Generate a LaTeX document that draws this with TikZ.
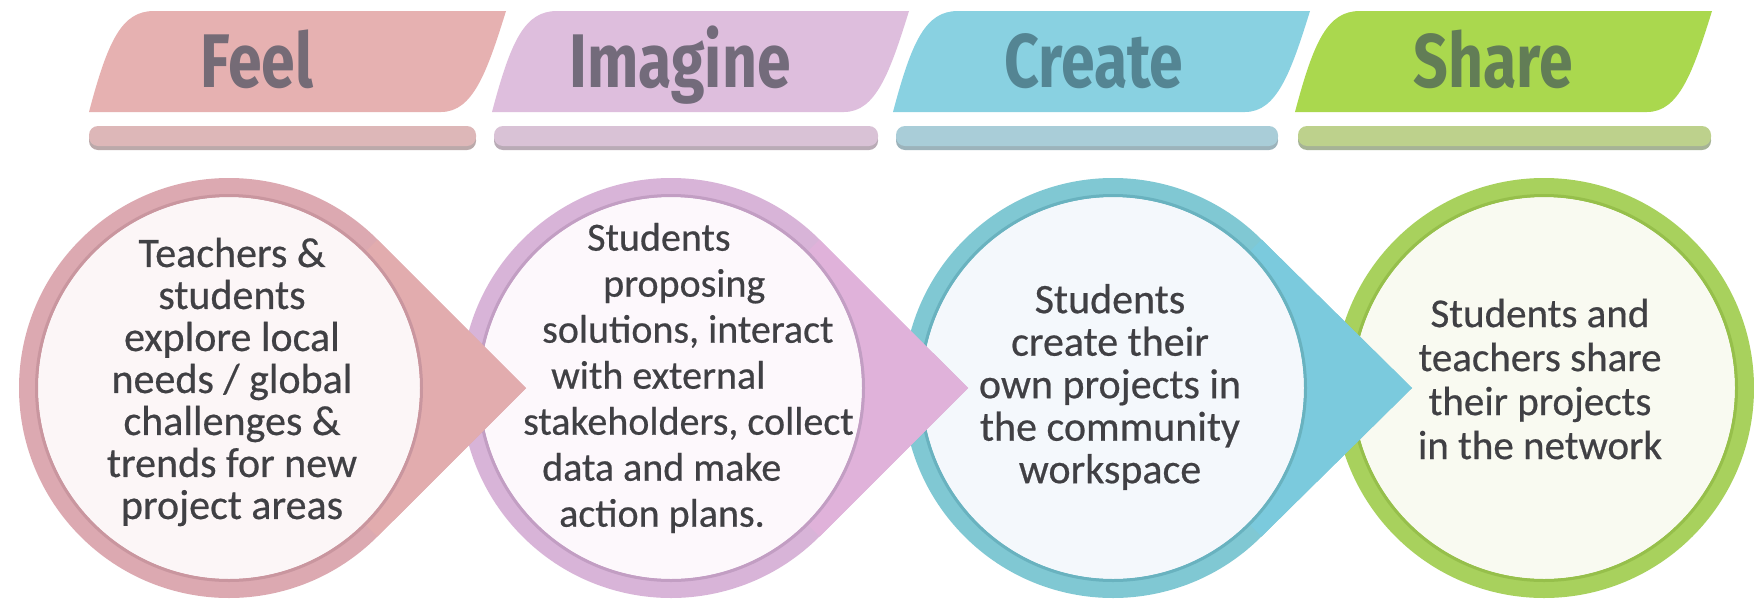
\documentclass[tikz,border=0pt]{standalone}
\usepackage{fontspec}
\setmainfont{Carlito}
\newfontfamily\bodyfont[FakeBold=0.5]{Carlito}
\newfontfamily\headfont{Fira Sans}
\definecolor{bodygray}{HTML}{404044}
\definecolor{feelBan}{HTML}{E6B1B1}\definecolor{feelTxt}{HTML}{756B76}
\definecolor{feelBar}{HTML}{DDB7B8}\definecolor{feelBarSh}{HTML}{BBA9AA}
\definecolor{feelRing}{HTML}{DCA9B1}\definecolor{feelArr}{HTML}{E2ACAE}
\definecolor{feelEdge}{HTML}{C9969F}\definecolor{feelIn}{HTML}{FCF6F7}
\definecolor{imgBan}{HTML}{DEBEDD}\definecolor{imgTxt}{HTML}{736B7B}
\definecolor{imgBar}{HTML}{D9C2D6}\definecolor{imgBarSh}{HTML}{B9ABB6}
\definecolor{imgRing}{HTML}{D8B4D8}\definecolor{imgArr}{HTML}{E0B2DA}
\definecolor{imgEdge}{HTML}{C29EC3}\definecolor{imgIn}{HTML}{FDF8FC}
\definecolor{crtBan}{HTML}{89D1E1}\definecolor{crtTxt}{HTML}{548593}
\definecolor{crtBar}{HTML}{A9CDD8}\definecolor{crtBarSh}{HTML}{9CB3BB}
\definecolor{crtRing}{HTML}{80C8D3}\definecolor{crtArr}{HTML}{7BCADD}
\definecolor{crtEdge}{HTML}{69B2BF}\definecolor{crtIn}{HTML}{F4F8FC}
\definecolor{shrBan}{HTML}{AAD84E}\definecolor{shrTxt}{HTML}{627D56}
\definecolor{shrBar}{HTML}{BDD18C}\definecolor{shrBarSh}{HTML}{A6B396}
\definecolor{shrRing}{HTML}{A8D15D}\definecolor{shrEdge}{HTML}{96BF4B}
\definecolor{shrIn}{HTML}{F9FAF1}
\tikzset{
  headtext/.style={anchor=base, inner sep=0pt, font=\headfont\bfseries\fontsize{76}{76}\selectfont},
  bodytext/.style={inner sep=0pt, text=bodygray, align=center},
}
% banner: #1 left x, #2 colour
\newcommand\drawbanner[2]{%
  \fill[#2] (#1,112) -- ({#1+352},112) .. controls ({#1+384},112) and ({#1+398},72) .. ({#1+417},11)
     -- ({#1+65},11) .. controls ({#1+33},11) and ({#1+19},40) .. (#1,112) -- cycle;}
% bar: #1 left, #2 right, #3 colour, #4 shadow
\newcommand\drawbar[4]{%
  \fill[#4, rounded corners=9pt] (#1,131) rectangle (#2,150);
  \fill[#3, rounded corners=9pt] (#1,126) rectangle (#2,146);}
% teardrop: #1 centre name, #2 tip x, #3 ring, #4 arrow, #5 inner, #6 edge
\newcommand\drawdrop[6]{%
  \fill[#3] (#2,388) -- ([shift={(45:210)}]#1) arc[start angle=45,end angle=315,radius=210] -- cycle;
  \fill[#4] (#2,388) -- ([shift={(45:210)}]#1) -- (#1) -- ([shift={(-45:210)}]#1) -- cycle;
  \fill[#5] (#1) circle[radius=191];
  \draw[#6, line width=3pt] (#1) circle[radius=192.5];}
\begin{document}
\begin{tikzpicture}[x=1pt,y=-1pt]
\useasboundingbox (0,0) rectangle (1754,603);
\fill[white] (0,0) rectangle (1754,603);
% banners
\drawbanner{89}{feelBan}
\drawbanner{492}{imgBan}
\drawbanner{893}{crtBan}
\drawbanner{1295}{shrBan}
\node[headtext, text=feelTxt] (hfeel) at (257,87) {\scalebox{0.8}[1]{Feel}};
\node[headtext, text=imgTxt] (himg) at (680,87) {\scalebox{0.8}[1]{Imagine}};
\node[headtext, text=crtTxt] (hcrt) at (1094,87) {\scalebox{0.8}[1]{Create}};
\node[headtext, text=shrTxt] (hshr) at (1493,87) {\scalebox{0.8}[1]{Share}};
% bars
\drawbar{89}{476}{feelBar}{feelBarSh}
\drawbar{494}{878}{imgBar}{imgBarSh}
\drawbar{896}{1278}{crtBar}{crtBarSh}
\drawbar{1298}{1711}{shrBar}{shrBarSh}
% circles
\coordinate (cF) at (229,388);
\coordinate (cI) at (671,388);
\coordinate (cC) at (1113,388);
\coordinate (cS) at (1544,388);
\fill[shrRing] (cS) circle[radius=210];
\fill[shrIn] (cS) circle[radius=191];
\draw[shrEdge, line width=3pt] (cS) circle[radius=192.5];
\drawdrop{cC}{1412}{crtRing}{crtArr}{crtIn}{crtEdge}
\drawdrop{cI}{968}{imgRing}{imgArr}{imgIn}{imgEdge}
\drawdrop{cF}{526}{feelRing}{feelArr}{feelIn}{feelEdge}
% texts
\node[bodytext, font=\bodyfont\fontsize{42}{42}\selectfont] (tfeel) at (232,382)
  {Teachers \&\\students\\explore local\\needs / global\\challenges \&\\trends for new\\project areas};
\node[bodytext, align=left, anchor=west, font=\bodyfont\fontsize{40}{46}\selectfont] (timg) at (523,378)
  {\hspace*{64pt}Students\\\hspace*{80pt}proposing\\\hspace*{19pt}solutions, interact\\\hspace*{28pt}with external\\stakeholders, collect\\\hspace*{19pt}data and make\\\hspace*{36pt}action plans.};
\node[bodytext, font=\bodyfont\fontsize{42}{42.5}\selectfont] (tcrt) at (1110,387)
  {Students\\create their\\own projects in\\the community\\workspace};
\node[bodytext, font=\bodyfont\fontsize{41}{44}\selectfont] (tshr) at (1540,379)
  {Students and\\teachers share\\their projects\\in the network};
\end{tikzpicture}
\end{document}
